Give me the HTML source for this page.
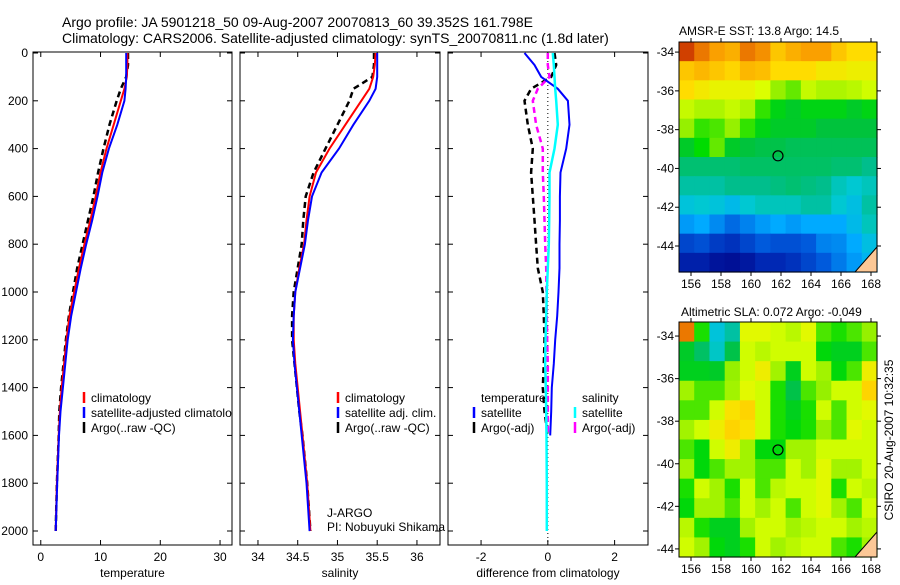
<!DOCTYPE html>
<html><head><meta charset="utf-8">
<style>
body{margin:0;background:#fff;width:900px;height:580px;overflow:hidden}
svg{font-family:"Liberation Sans",sans-serif}
</style></head>
<body>
<svg id="fig" width="900" height="580" xmlns="http://www.w3.org/2000/svg">
<defs><clipPath id="clipP1"><rect x="33" y="52" width="199" height="494"/></clipPath></defs>
<text x="62" y="27" font-size="14">Argo profile: JA 5901218_50 09-Aug-2007 20070813_60 39.352S 161.798E</text>
<text x="62" y="43" font-size="14">Climatology: CARS2006. Satellite-adjusted climatology: synTS_20070811.nc (1.8d later)</text>
<text x="679" y="35" font-size="12">AMSR-E SST: 13.8 Argo: 14.5</text>
<text x="681" y="316" font-size="12">Altimetric SLA: 0.072 Argo: -0.049</text>
<text transform="translate(893,440) rotate(-90)" text-anchor="middle" font-size="12">CSIRO 20-Aug-2007 10:32:35</text>
</svg>
<script>
// ---- profile data ----
const depths = [0,50,100,150,200,300,400,500,600,700,800,900,1000,1100,1200,1300,1400,1500,1600,1800,2000];
const tempClim = [14.5,14.5,14.4,14.0,13.4,12.2,11.0,10.0,9.2,8.3,7.3,6.4,5.6,4.8,4.3,3.9,3.5,3.2,3.0,2.7,2.5];
const tempSat  = [14.3,14.3,14.3,14.2,14.0,12.8,11.4,10.3,9.5,8.6,7.6,6.7,5.9,5.1,4.5,4.1,3.7,3.3,3.05,2.75,2.5];
const tempArgo = [14.6,14.6,14.3,13.4,12.7,11.5,10.5,9.6,8.8,7.9,7.0,6.1,5.4,4.7,4.2,3.8,3.4,3.1,3.0,2.7,2.5];
const salClim = [35.48,35.47,35.45,35.4,35.3,35.1,34.9,34.73,34.65,34.61,34.58,34.52,34.47,34.45,34.45,34.47,34.5,34.53,34.56,34.62,34.66];
const salSat  = [35.5,35.5,35.5,35.48,35.4,35.2,35.02,34.8,34.68,34.63,34.59,34.53,34.47,34.45,34.44,34.46,34.49,34.52,34.55,34.61,34.65];
const salArgo = [35.46,35.46,35.44,35.2,35.15,35.0,34.85,34.7,34.6,34.57,34.55,34.5,34.45,34.43,34.43,34.46,34.49,34.52,34.56,34.62,34.66];
const diffTempSat  = [-0.7,-0.4,-0.2,0.3,0.6,0.65,0.55,0.38,0.36,0.36,0.35,0.35,0.32,0.28,0.22,0.18,0.12,0.1,0.07,0.05,0.05];
const diffTempArgo = [0.2,0.25,0.1,-0.5,-0.7,-0.6,-0.45,-0.5,-0.45,-0.4,-0.35,-0.3,-0.15,-0.12,-0.1,-0.12,-0.15,-0.1,0.0,0.0,0.0];
const diffSalSat   = [0.15,0.18,0.2,0.22,0.25,0.3,0.2,0.05,0.05,0.04,0.03,0.0,-0.03,-0.05,-0.07,-0.08,-0.06,-0.05,-0.04,-0.03,-0.03];
const diffSalArgo  = [0.0,0.0,0.05,-0.3,-0.45,-0.35,-0.15,-0.15,-0.12,-0.1,-0.08,-0.05,-0.04,-0.03,-0.02,0.0,0.0,0.0,0.0,0.0,0.0];
const depthTicks = [0,200,400,600,800,1000,1200,1400,1600,1800,2000];
const tempTicks = [0,10,20,30];
const salTicks = [34,34.5,35,35.5,36];
const diffTicks = [-2,0,2];
// ---- map data (normalised colour index 0..1, rows north->south, cols west->east) ----
const sstGrid = [
[.92,.85,.8,.78,.85,.82,.75,.78,.8,.8,.75,.72,.72],
[.75,.77,.75,.73,.77,.76,.72,.72,.72,.7,.7,.69,.69],
[.72,.7,.68,.68,.68,.66,.6,.58,.64,.62,.62,.63,.65],
[.64,.62,.62,.64,.62,.56,.52,.5,.52,.52,.52,.5,.52],
[.6,.56,.57,.6,.56,.52,.5,.5,.5,.48,.48,.48,.48],
[.5,.54,.58,.5,.48,.47,.47,.46,.46,.46,.46,.46,.46],
[.44,.44,.44,.44,.45,.45,.45,.45,.45,.45,.44,.44,.42],
[.4,.4,.4,.42,.42,.42,.43,.44,.43,.42,.38,.36,.38],
[.35,.36,.35,.33,.36,.38,.38,.38,.4,.4,.36,.34,.4],
[.28,.3,.26,.22,.25,.28,.3,.28,.3,.3,.3,.33,.38],
[.16,.18,.14,.12,.16,.2,.18,.18,.2,.25,.26,.3,.34],
[.08,.08,.05,.04,.06,.1,.1,.12,.16,.2,.24,.28,.32]];
const slaGrid = [
[.8,.5,.3,.35,.62,.62,.6,.58,.62,.52,.5,.52,.55],
[.45,.4,.32,.42,.6,.58,.6,.6,.6,.48,.46,.46,.52],
[.46,.46,.45,.55,.6,.64,.56,.46,.6,.56,.48,.52,.64],
[.56,.52,.52,.56,.62,.6,.5,.42,.52,.55,.6,.6,.68],
[.52,.52,.6,.66,.68,.6,.5,.46,.5,.6,.52,.6,.62],
[.56,.6,.64,.68,.66,.6,.5,.48,.5,.55,.52,.62,.6],
[.52,.48,.6,.64,.56,.48,.48,.56,.56,.6,.6,.6,.6],
[.56,.48,.52,.56,.56,.52,.52,.6,.56,.62,.56,.56,.6],
[.5,.6,.56,.5,.6,.52,.58,.6,.6,.62,.5,.6,.58],
[.48,.56,.56,.52,.6,.56,.6,.52,.6,.62,.56,.52,.6],
[.58,.5,.46,.46,.56,.6,.6,.56,.58,.6,.6,.56,.58],
[.6,.56,.48,.46,.5,.6,.56,.58,.6,.6,.52,.5,.56]];
const lonTicks = [156,158,160,162,164,166,168];
const latTicks = [-34,-36,-38,-40,-42,-44];
const floatLon = 161.8, floatLat = -39.35;

const NS="http://www.w3.org/2000/svg", svg=document.getElementById('fig');
function mk(tag,attrs,parent){const e=document.createElementNS(NS,tag);for(const k in attrs)e.setAttribute(k,attrs[k]);(parent||svg).appendChild(e);return e;}
function txt(x,y,s,size,anchor,parent){const t=mk('text',{x:x,y:y,'font-size':size,'text-anchor':anchor||'start'},parent);t.textContent=s;return t;}
const top0=53, bot=545, dScale=(531-53)/2000;
const yD=d=>top0+d*dScale;

function panel(name,x0,x1,vmin,vmax,xticks,fmt,xlabel,showY){
  const g=mk('g',{});
  
  
  const xs=v=>x0+(v-vmin)/(vmax-vmin)*(x1-x0);
  const box=mk('rect',{x:x0,y:top0-1,width:x1-x0,height:bot-top0+1,fill:'none',stroke:'#000','stroke-width':1},g);
  
  
  xticks.forEach(t=>{const X=xs(t);mk('line',{x1:X,x2:X,y1:bot,y2:bot-5,stroke:'#000'},g);mk('line',{x1:X,x2:X,y1:top0-1,y2:top0+4,stroke:'#000'},g);
    const l=txt(X,bot+16,fmt(t),12,'middle',g);});
  depthTicks.forEach(d=>{const Y=yD(d);mk('line',{x1:x0,x2:x0+5,y1:Y,y2:Y,stroke:'#000'},g);mk('line',{x1:x1,x2:x1-5,y1:Y,y2:Y,stroke:'#000'},g);
    if(showY){const l=txt(x0-5,Y+4,String(d),12,'end',g);}});
  const xl=txt((x0+x1)/2,bot+32,xlabel,12,'middle',g);
  
  
  return {g,xs};
}
function line(p,vals,color,dash,w,name,n){
  const pts=vals.slice(0,n||vals.length).map((v,i)=>p.xs(v).toFixed(1)+','+yD(depths[i]).toFixed(1)).join(' ');
  const l=mk('polyline',{points:pts,fill:'none',stroke:color,'stroke-width':w||2,'stroke-dasharray':dash||'none'},p.g);
  
  
}
function legend(p,x,y,items,name,clip){
  const g=mk('g',{},p.g);
  if(clip) g.setAttribute('clip-path',clip);
  
  
  items.forEach((it,i)=>{const Y=y+i*15;
    if(it[1]) mk('line',{x1:x,x2:x,y1:Y-10,y2:Y+1,stroke:it[1],'stroke-width':2.5},g);
    const t=txt(x+7,Y,it[0],12,'start',g);});
}
// temperature panel
const p1=panel('temperature-panel',33,232,-1.3,32,tempTicks,String,'temperature',true);
line(p1,tempArgo,'#000','6,4',2.5,'temp-argo-line');
line(p1,tempClim,'#f00','',2,'temp-climatology-line');
line(p1,tempSat,'#00f','',2,'temp-satellite-line');
legend(p1,84,402,[['climatology','#f00'],['satellite-adjusted climatology','#00f'],['Argo(..raw -QC)','#000']],'temp-legend','url(#clipP1)');
// salinity panel
const p2=panel('salinity-panel',240,440,33.774,36.29,salTicks,v=>String(v),'salinity',false);
line(p2,salArgo,'#000','6,4',2.5,'sal-argo-line');
line(p2,salClim,'#f00','',2,'sal-climatology-line');
line(p2,salSat,'#00f','',2,'sal-satellite-line');
legend(p2,338,402,[['climatology','#f00'],['satellite adj. clim.','#00f'],['Argo(..raw -QC)','#000']],'sal-legend');
const c1=txt(327,517,'J-ARGO',12,'start',p2.g);
const c2=txt(327,531,'PI: Nobuyuki Shikama',12,'start',p2.g);
// difference panel
const p3=panel('difference-panel',448,648,-2.99,3.0,diffTicks,String,'difference from climatology',false);
mk('line',{x1:p3.xs(0),x2:p3.xs(0),y1:top0,y2:bot,stroke:'#000','stroke-dasharray':'1,3'},p3.g);
line(p3,diffTempArgo,'#000','6,4',2.5,'diff-temp-argo-line',19);
line(p3,diffSalArgo,'#f0f','6,4',2.5,'diff-sal-argo-line',19);
line(p3,diffTempSat,'#00f','',2,'diff-temp-satellite-line',19);
line(p3,diffSalSat,'#0ff','',2.5,'diff-sal-satellite-line');
legend(p3,474,402,[['temperature',null],['satellite','#00f'],['Argo(-adj)','#000']],'diff-temp-legend');
legend(p3,575,402,[['salinity',null],['satellite','#0ff'],['Argo(-adj)','#f0f']],'diff-sal-legend');

const cStops=[[0,0,0,130],[.1,0,40,180],[.2,0,90,220],[.3,0,170,255],[.36,0,200,210],[.42,0,190,140],[.48,0,195,60],[.54,0,220,0],[.6,150,240,0],[.66,220,255,0],[.72,255,220,0],[.8,250,160,0],[.9,220,80,0],[1,160,0,0]];
function cmap(v){v=Math.max(0,Math.min(1,v));
  for(let i=1;i<cStops.length;i++){if(v<=cStops[i][0]){const a=cStops[i-1],b=cStops[i],t=(v-a[0])/(b[0]-a[0]);
    return 'rgb('+[1,2,3].map(k=>Math.round(a[k]+(b[k]-a[k])*t)).join(',')+')';}}
  return 'rgb(160,0,0)';}
function map(name,grid,x0,y0,x1,y1,lonMin,lonMax,latTop,latBot,shift){
  const g=mk('g',{});
  
  
  const lx=l=>x0+(l-lonMin)/(lonMax-lonMin)*(x1-x0), ly=l=>y0+(latTop-l)/(latTop-latBot)*(y1-y0);
  const R=grid.length,C=grid[0].length,cw=(x1-x0)/C,ch=(y1-y0)/R;
  grid.forEach((row,i)=>row.forEach((v,j)=>{
    const c=mk('rect',{x:(x0+j*cw).toFixed(2),y:(y0+i*ch).toFixed(2),width:(cw+0.6).toFixed(2),height:(ch+0.6).toFixed(2),fill:cmap(v+shift)},g);
    
    
  }));
  const land=mk('polygon',{points:`${x1},${y1-25} ${x1-22},${y1} ${x1},${y1}`,fill:'#fcc896',stroke:'#000','stroke-width':1},g);
  
  
  mk('rect',{x:x0,y:y0,width:x1-x0,height:y1-y0,fill:'none',stroke:'#000'},g);
  lonTicks.forEach(l=>{const X=lx(l);mk('line',{x1:X,x2:X,y1:y1,y2:y1+4,stroke:'#000'},g);mk('line',{x1:X,x2:X,y1:y0,y2:y0-4,stroke:'#000'},g);
    const t=txt(X,y1+16,String(l),12,'middle',g);});
  latTicks.forEach(l=>{const Y=ly(l);mk('line',{x1:x0,x2:x0-4,y1:Y,y2:Y,stroke:'#000'},g);mk('line',{x1:x1,x2:x1+4,y1:Y,y2:Y,stroke:'#000'},g);
    const t=txt(x0-5,Y+4,String(l),12,'end',g);});
  const m=mk('circle',{cx:lx(floatLon),cy:ly(floatLat),r:5,fill:'none',stroke:'#000','stroke-width':1.2},g);
  
  
}
map('sst-map',sstGrid,679,42,877,272,155.2,168.4,-33.48,-45.34,0);
map('sla-map',slaGrid,679,322,877,557,155.2,168.4,-33.34,-44.38,0.05);
</script>
</body></html>
